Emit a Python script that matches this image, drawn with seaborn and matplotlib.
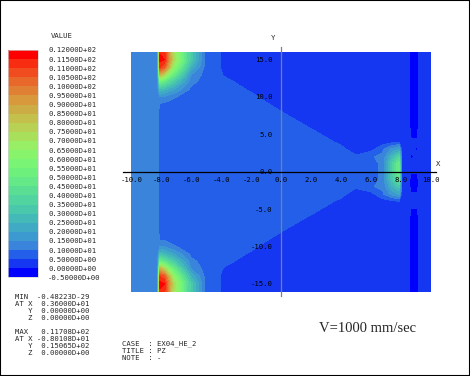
import numpy as np
import matplotlib
matplotlib.use("Agg")
import matplotlib.pyplot as plt
from matplotlib.patches import Rectangle
import seaborn as sns

sns.set_style("white")
plt.rcParams["font.family"] = ["DejaVu Sans Mono", "DejaVu Sans"]

# ---------------- data ----------------
X_NODES = [-10.0, -8.25, -8.1, -7.8, -7.2, -6.0, -5.0, -4.3, -3.8, -2.0, 0.0, 2.0,
           4.0, 5.0, 6.0, 6.8, 7.4, 7.9, 8.1, 8.55, 8.7, 9.1, 9.25, 10.0]
Y_NODES = [16, 15, 14, 13, 12, 11, 10, 9, 8, 6, 4, 3, 2, 1, 0,
           -1, -2, -3, -4, -6, -8, -9, -10, -11, -12, -13, -14, -15, -16]

PZ = [
    [1.25, 1.25, 11.4, 11.2, 7.3, 3.2, 0.75, 0.75, 0.2, 0.25, 0.25, 0.25, 0.25, 0.25, 0.25, 0.25, 0.25, 0.25, 0.25, 0.25, -0.3, -0.3, 0.25, 0.25],
    [1.25, 1.25, 11.7, 11.5, 7.5, 3.2, 0.75, 0.75, 0.2, 0.25, 0.25, 0.25, 0.25, 0.25, 0.25, 0.25, 0.25, 0.25, 0.25, 0.25, -0.3, -0.3, 0.25, 0.25],
    [1.25, 1.25, 11.0, 10.5, 6.5, 2.4, 0.75, 0.75, 0.2, 0.25, 0.25, 0.25, 0.25, 0.25, 0.25, 0.25, 0.25, 0.25, 0.25, 0.25, -0.3, -0.3, 0.25, 0.25],
    [1.25, 1.25, 8.5, 7.5, 5.0, 1.5, 0.75, 0.75, 0.43, 0.25, 0.25, 0.25, 0.25, 0.25, 0.25, 0.25, 0.25, 0.25, 0.25, 0.25, -0.3, -0.3, 0.25, 0.25],
    [1.25, 1.25, 5.0, 4.5, 3.3, 1.15, 0.75, 0.75, 0.7, 0.17, 0.25, 0.25, 0.25, 0.25, 0.25, 0.25, 0.25, 0.25, 0.25, 0.25, -0.3, -0.3, 0.25, 0.25],
    [1.25, 1.25, 2.8, 2.6, 2.0, 0.85, 0.75, 0.75, 0.75, 0.44, 0.25, 0.25, 0.25, 0.25, 0.25, 0.25, 0.25, 0.25, 0.25, 0.25, -0.3, -0.3, 0.25, 0.25],
    [1.25, 1.25, 1.5, 1.4, 1.05, 0.78, 0.75, 0.75, 0.75, 0.6, 0.17, 0.25, 0.25, 0.25, 0.25, 0.25, 0.25, 0.25, 0.25, 0.25, -0.3, -0.3, 0.25, 0.25],
    [1.25, 1.25, 0.9, 0.88, 0.8, 0.75, 0.75, 0.75, 0.75, 0.75, 0.35, 0.25, 0.25, 0.25, 0.25, 0.25, 0.25, 0.25, 0.25, 0.25, -0.3, -0.3, 0.25, 0.25],
    [1.25, 1.25, 0.75, 0.75, 0.75, 0.75, 0.75, 0.75, 0.75, 0.75, 0.51, 0.2, 0.25, 0.25, 0.25, 0.25, 0.25, 0.25, 0.25, 0.25, -0.3, -0.3, 0.25, 0.25],
    [1.25, 1.25, 0.75, 0.75, 0.75, 0.75, 0.75, 0.75, 0.75, 0.75, 0.75, 0.47, 0.25, 0.25, 0.25, 0.25, 0.25, 0.25, 0.25, 0.25, -0.3, -0.3, 0.25, 0.25],
    [1.25, 1.25, 0.75, 0.75, 0.75, 0.75, 0.75, 0.75, 0.75, 0.75, 0.75, 0.75, 0.42, 0.25, 0.25, 0.25, 0.3, 0.45, 0.25, 0.25, 0.1, 0.1, 0.25, 0.25],
    [1.25, 1.25, 0.75, 0.75, 0.75, 0.75, 0.75, 0.75, 0.75, 0.75, 0.75, 0.75, 0.6, 0.33, 0.3, 0.9, 1.6, 2.0, 0.25, 0.25, 0.25, -0.1, 0.25, 0.25],
    [1.25, 1.25, 0.75, 0.75, 0.75, 0.75, 0.75, 0.75, 0.75, 0.75, 0.75, 0.75, 0.75, 0.55, 0.95, 1.1, 2.6, 3.8, 0.25, 0.25, -0.2, 0.25, 0.25, 0.25],
    [1.25, 1.25, 0.75, 0.75, 0.75, 0.75, 0.75, 0.75, 0.75, 0.75, 0.75, 0.75, 0.75, 0.75, 0.8, 1.1, 3.4, 5.0, 0.25, 0.25, 0.25, 0.25, 0.25, 0.25],
    [1.25, 1.25, 0.75, 0.75, 0.75, 0.75, 0.75, 0.75, 0.75, 0.75, 0.75, 0.75, 0.75, 0.75, 0.8, 1.1, 3.4, 5.0, 0.25, 0.25, 0.1, 0.1, 0.25, 0.25],
    [1.25, 1.25, 0.75, 0.75, 0.75, 0.75, 0.75, 0.75, 0.75, 0.75, 0.75, 0.75, 0.75, 0.75, 0.8, 1.1, 3.1, 4.5, 0.25, 0.25, -0.3, -0.3, 0.25, 0.25],
    [1.25, 1.25, 0.75, 0.75, 0.75, 0.75, 0.75, 0.75, 0.75, 0.75, 0.75, 0.75, 0.75, 0.55, 0.95, 1.1, 2.4, 3.2, 0.25, 0.25, -0.3, -0.3, 0.25, 0.25],
    [1.25, 1.25, 0.75, 0.75, 0.75, 0.75, 0.75, 0.75, 0.75, 0.75, 0.75, 0.75, 0.6, 0.33, 0.3, 0.9, 1.6, 2.0, 0.25, 0.25, 0.1, 0.1, 0.25, 0.25],
    [1.25, 1.25, 0.75, 0.75, 0.75, 0.75, 0.75, 0.75, 0.75, 0.75, 0.75, 0.75, 0.42, 0.25, 0.25, 0.25, 0.3, 0.45, 0.25, 0.25, 0.25, 0.25, 0.25, 0.25],
    [1.25, 1.25, 0.75, 0.75, 0.75, 0.75, 0.75, 0.75, 0.75, 0.75, 0.75, 0.47, 0.25, 0.25, 0.25, 0.25, 0.25, 0.25, 0.25, 0.25, -0.3, -0.3, 0.25, 0.25],
    [1.25, 1.25, 0.75, 0.75, 0.75, 0.75, 0.75, 0.75, 0.75, 0.75, 0.51, 0.2, 0.25, 0.25, 0.25, 0.25, 0.25, 0.25, 0.25, 0.25, -0.3, -0.3, 0.25, 0.25],
    [1.25, 1.25, 0.9, 0.88, 0.8, 0.75, 0.75, 0.75, 0.75, 0.75, 0.35, 0.25, 0.25, 0.25, 0.25, 0.25, 0.25, 0.25, 0.25, 0.25, -0.3, -0.3, 0.25, 0.25],
    [1.25, 1.25, 1.5, 1.4, 1.05, 0.78, 0.75, 0.75, 0.75, 0.6, 0.17, 0.25, 0.25, 0.25, 0.25, 0.25, 0.25, 0.25, 0.25, 0.25, -0.3, -0.3, 0.25, 0.25],
    [1.25, 1.25, 2.8, 2.6, 2.0, 0.85, 0.75, 0.75, 0.75, 0.44, 0.25, 0.25, 0.25, 0.25, 0.25, 0.25, 0.25, 0.25, 0.25, 0.25, -0.3, -0.3, 0.25, 0.25],
    [1.25, 1.25, 5.0, 4.5, 3.3, 1.15, 0.75, 0.75, 0.7, 0.17, 0.25, 0.25, 0.25, 0.25, 0.25, 0.25, 0.25, 0.25, 0.25, 0.25, -0.3, -0.3, 0.25, 0.25],
    [1.25, 1.25, 8.5, 7.5, 5.0, 1.5, 0.75, 0.75, 0.43, 0.25, 0.25, 0.25, 0.25, 0.25, 0.25, 0.25, 0.25, 0.25, 0.25, 0.25, -0.3, -0.3, 0.25, 0.25],
    [1.25, 1.25, 11.0, 10.5, 6.5, 2.4, 0.75, 0.75, 0.2, 0.25, 0.25, 0.25, 0.25, 0.25, 0.25, 0.25, 0.25, 0.25, 0.25, 0.25, -0.3, -0.3, 0.25, 0.25],
    [1.25, 1.25, 11.7, 11.5, 7.5, 3.2, 0.75, 0.75, 0.2, 0.25, 0.25, 0.25, 0.25, 0.25, 0.25, 0.25, 0.25, 0.25, 0.25, 0.25, -0.3, -0.3, 0.25, 0.25],
    [1.25, 1.25, 11.4, 11.2, 7.3, 3.2, 0.75, 0.75, 0.2, 0.25, 0.25, 0.25, 0.25, 0.25, 0.25, 0.25, 0.25, 0.25, 0.25, 0.25, -0.3, -0.3, 0.25, 0.25],
]

LEVELS = [-0.5, 0.0, 0.5, 1.0, 1.5, 2.0, 2.5, 3.0, 3.5, 4.0, 4.5, 5.0, 5.5,
          6.0, 6.5, 7.0, 7.5, 8.0, 8.5, 9.0, 9.5, 10.0, 10.5, 11.0, 11.5, 12.0]
LEVEL_LABELS = ["-0.50000D+00", "0.00000D+00", "0.50000D+00", "0.10000D+01",
                "0.15000D+01", "0.20000D+01", "0.25000D+01", "0.30000D+01",
                "0.35000D+01", "0.40000D+01", "0.45000D+01", "0.50000D+01",
                "0.55000D+01", "0.60000D+01", "0.65000D+01", "0.70000D+01",
                "0.75000D+01", "0.80000D+01", "0.85000D+01", "0.90000D+01",
                "0.95000D+01", "0.10000D+02", "0.10500D+02", "0.11000D+02",
                "0.11500D+02", "0.12000D+02"]
BAND_COLORS = ["#0000ff", "#1637f2", "#235fe8", "#3a84dc", "#3c9ad0", "#40aac4",
               "#44bab8", "#4ac8ac", "#52d4a0", "#5ade94", "#64e888", "#6ef07c",
               "#7af474", "#88f46c", "#98ee64", "#a8e05c", "#b8d054", "#c4c04c",
               "#ccac44", "#d8983c", "#e08034", "#e8682c", "#f04c20", "#f82c10",
               "#ff0000"]

X_TICKS = [-10, -8, -6, -4, -2, 0, 2, 4, 6, 8, 10]
X_TICK_LABELS = ["-10.0", "-8.0", "-6.0", "-4.0", "-2.0", "0.0", "2.0", "4.0",
                 "6.0", "8.0", "10.0"]
Y_TICKS = [-15, -10, -5, 0, 5, 10, 15]
Y_TICK_LABELS = ["-15.0", "-10.0", "-5.0", "0.0", "5.0", "10.0", "15.0"]

MINMAX_LINES = ["MIN  -0.48223D-29", "AT X  0.36000D+01", "   Y  0.00000D+00",
                "   Z  0.00000D+00", "MAX   0.11708D+02", "AT X -0.80108D+01",
                "   Y  0.15065D+02", "   Z  0.00000D+00"]
CASE_LINES = ["CASE  : EX04_HE_2", "TITLE : PZ", "NOTE  : -"]
SPEED_TEXT = "V=1000 mm/sec"

# ---------------- layout ----------------
W, H = 470, 376
FS = 5.2

def fx(px):
    return px / W

def fy(py):
    return 1 - py / H

fig = plt.figure(figsize=(4.7, 3.76), dpi=100)
fig.patch.set_facecolor("white")

ax = fig.add_axes([fx(123.3), fy(296.0), 312.7 / W, 249.3 / H])
ax.set_axisbelow(False)
cf = ax.contourf(X_NODES, Y_NODES, PZ, levels=LEVELS, colors=BAND_COLORS, zorder=1)
ax.set_xlim(-10.55, 10.37)
ax.set_ylim(-16.64, 16.73)
ax.set_facecolor("none")
for s in ["top", "right"]:
    ax.spines[s].set_visible(False)
ax.spines["bottom"].set_position(("data", 0))
ax.spines["bottom"].set_color("black")
ax.spines["bottom"].set_linewidth(0.9)
ax.spines["left"].set_position(("data", 0))
ax.spines["left"].set_color("#808080")
ax.spines["left"].set_linewidth(0.9)

ax.set_xticks(X_TICKS)
ax.set_xticklabels(X_TICK_LABELS)
ax.set_yticks(Y_TICKS)
ax.set_yticklabels(Y_TICK_LABELS)
ax.tick_params(axis="x", direction="in", length=2.6, width=0.8, pad=3.5,
               labelsize=FS, colors="black")
ax.tick_params(axis="y", direction="out", length=3.5, width=0.8, pad=2.5,
               labelsize=FS, colors="black")
ax.xaxis.set_zorder(6)
ax.yaxis.set_zorder(6)
ax.set_xlabel("")
ax.set_ylabel("")

fig.text(fx(273), fy(38), "Y", fontsize=FS, ha="center", va="center")
fig.text(fx(438), fy(164), "X", fontsize=FS, ha="center", va="center")

# colour bar
cax = fig.add_axes([fx(7.7), fy(277.3), 30.6 / W, 227.3 / H])
cb = fig.colorbar(cf, cax=cax)
cb.set_ticks(LEVELS)
cb.set_ticklabels(LEVEL_LABELS)
cax.tick_params(length=0, pad=7, labelsize=FS)
cb.outline.set_linewidth(0.5)
cb.outline.set_edgecolor("#d0d0d0")
fig.text(fx(62), fy(36), "VALUE", fontsize=FS, ha="center", va="center")

# info blocks
minmax_y = [297, 304, 311, 318, 332, 339, 346, 353]
for yy, line in zip(minmax_y, MINMAX_LINES):
    fig.text(fx(15), fy(yy), line, fontsize=FS, ha="left", va="center")
case_y = [344, 351, 358]
for yy, line in zip(case_y, CASE_LINES):
    fig.text(fx(121.5), fy(yy), line, fontsize=FS, ha="left", va="center")
fig.text(fx(319), fy(329), SPEED_TEXT, fontsize=10.5, ha="left", va="center",
         family="Liberation Serif")

fig.patches.append(Rectangle((0, 0), 1, 1, transform=fig.transFigure, fill=False,
                             edgecolor="black", linewidth=1.5))

fig.savefig("out.png", dpi=100)
